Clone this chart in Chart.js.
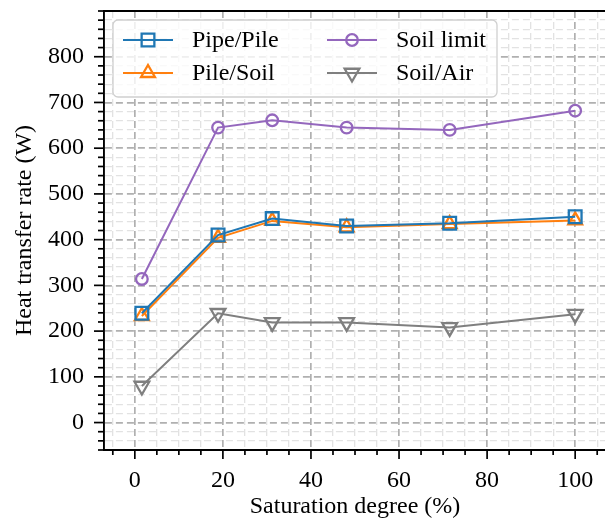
<!DOCTYPE html>
<html><head><meta charset="utf-8">
<script src="https://cdn.jsdelivr.net/npm/chart.js@4.4.0/dist/chart.umd.min.js"></script>
<style>html,body{margin:0;padding:0;overflow:hidden;background:#fff}#wrap{width:606px;height:521px;position:relative}</style>
</head><body><div id="wrap"><canvas id="c"></canvas></div>
<script>
const saturation = [1.6, 18.9, 31.2, 48.1, 71.5, 100];
const pipePile  = [239, 410, 446, 430, 436, 450];
const pileSoil  = [233, 404, 441, 427, 434, 442];
const soilLimit = [314, 645, 661, 645, 640, 682];
const soilAir   = [80, 239, 219, 219, 208, 237];
const seriesNames = ['Pipe/Pile', 'Pile/Soil', 'Soil limit', 'Soil/Air'];
const xTickLabels = [0, 20, 40, 60, 80, 100];
const yTickLabels = [0, 100, 200, 300, 400, 500, 600, 700, 800];
const xTitle = 'Saturation degree (%)';
const yTitle = 'Heat transfer rate (W)';

const FONT = '"Liberation Serif", "Times New Roman", serif';
const COLORS = ['#1f77b4', '#ff7f0e', '#9467bd', '#7f7f7f'];
const STYLES = [
  {pointStyle: 'rect', radius: 9, rotation: 0},
  {pointStyle: 'triangle', radius: 8, rotation: 0},
  {pointStyle: 'circle', radius: 5.8, rotation: 0},
  {pointStyle: 'triangle', radius: 8.5, rotation: 180}
];
const values = [pipePile, pileSoil, soilLimit, soilAir];

const datasets = values.map((vals, i) => ({
  label: seriesNames[i],
  data: saturation.map((x, j) => ({x: x, y: vals[j]})),
  borderColor: COLORS[i],
  backgroundColor: 'transparent',
  borderWidth: 2,
  pointStyle: STYLES[i].pointStyle,
  pointRadius: STYLES[i].radius,
  pointRotation: STYLES[i].rotation,
  pointBorderColor: COLORS[i],
  pointBackgroundColor: 'transparent',
  pointBorderWidth: 2.3,
  tension: 0
}));

function drawMarker(ctx, style, r, rot, x, y, color) {
  ctx.save();
  ctx.strokeStyle = color; ctx.lineWidth = 2.3;
  ctx.beginPath();
  if (style === 'circle') {
    ctx.arc(x, y, r, 0, Math.PI * 2);
  } else if (style === 'rect') {
    const s = r * Math.SQRT1_2;
    ctx.rect(x - s, y - s, 2 * s, 2 * s);
  } else {
    let rad = rot * Math.PI / 180;
    ctx.moveTo(x + Math.sin(rad) * r, y - Math.cos(rad) * r);
    rad += 2 * Math.PI / 3;
    ctx.lineTo(x + Math.sin(rad) * r, y - Math.cos(rad) * r);
    rad += 2 * Math.PI / 3;
    ctx.lineTo(x + Math.sin(rad) * r, y - Math.cos(rad) * r);
    ctx.closePath();
  }
  ctx.stroke();
  ctx.restore();
}

const decorPlugin = {
  id: 'decor',
  afterDraw(chart) {
    const ctx = chart.ctx;
    const a = chart.chartArea;
    const xs = chart.scales.x, ys = chart.scales.y;
    ctx.save();
    // tick marks
    ctx.strokeStyle = '#000'; ctx.lineWidth = 1.7;
    ys.ticks.forEach(t => {
      const v = t.value;
      if (Math.abs(v % 20) > 1e-6) return;
      const major = v % 100 === 0 && v >= 0 && v <= 800;
      const len = major ? 10 : 6;
      const p = ys.getPixelForValue(v);
      ctx.beginPath(); ctx.moveTo(a.left - len, p); ctx.lineTo(a.left, p); ctx.stroke();
    });
    xs.ticks.forEach(t => {
      const v = t.value;
      if (Math.abs(v % 5) > 1e-6) return;
      const major = v % 20 === 0;
      const len = major ? 9 : 5;
      const p = xs.getPixelForValue(v);
      ctx.beginPath(); ctx.moveTo(p, a.bottom); ctx.lineTo(p, a.bottom + len); ctx.stroke();
    });
    // top spine
    ctx.lineWidth = 1.9;
    ctx.beginPath();
    ctx.moveTo(a.left, a.top); ctx.lineTo(a.right, a.top);
    ctx.stroke();
    // legend
    const bx = 113, by = 20, bw = 384, bh = 77, rr = 5;
    ctx.beginPath();
    ctx.moveTo(bx + rr, by);
    ctx.arcTo(bx + bw, by, bx + bw, by + bh, rr);
    ctx.arcTo(bx + bw, by + bh, bx, by + bh, rr);
    ctx.arcTo(bx, by + bh, bx, by, rr);
    ctx.arcTo(bx, by, bx + bw, by, rr);
    ctx.closePath();
    ctx.fillStyle = 'rgba(255,255,255,0.8)';
    ctx.fill();
    ctx.strokeStyle = '#d0d0d0'; ctx.lineWidth = 1.3;
    ctx.stroke();
    const order = [0, 2, 1, 3];
    const pos = [[123, 40], [327, 40], [123, 73], [327, 73]];
    order.forEach((di, k) => {
      const [x0, y0] = pos[k];
      const c = COLORS[di];
      ctx.strokeStyle = c; ctx.lineWidth = 2;
      ctx.beginPath(); ctx.moveTo(x0, y0); ctx.lineTo(x0 + 50, y0); ctx.stroke();
      drawMarker(ctx, STYLES[di].pointStyle, STYLES[di].radius, STYLES[di].rotation, x0 + 25, y0, c);
      ctx.fillStyle = '#000';
      ctx.font = '24px ' + FONT;
      ctx.textBaseline = 'middle';
      ctx.textAlign = 'left';
      ctx.fillText(seriesNames[di], x0 + 69, y0 + 1);
    });
    ctx.restore();
  }
};

const tickFont = {family: FONT, size: 24};
const isMajorY = v => v % 100 === 0 && v >= 0 && v <= 800;

new Chart(document.getElementById('c'), {
  type: 'line',
  data: {datasets: datasets},
  plugins: [decorPlugin],
  options: {
    responsive: true,
    maintainAspectRatio: false,
    animation: false,
    events: [],
    layout: {autoPadding: false, padding: {top: 11, left: 0, right: 0, bottom: 0}},
    plugins: {legend: {display: false}, tooltip: {enabled: false}},
    scales: {
      x: {
        type: 'linear', min: -7, max: 107,
        afterFit: s => { s.height = 71; s.paddingLeft = 0; s.paddingRight = 0; },
        ticks: {
          stepSize: 5, autoSkip: false, includeBounds: false, maxRotation: 0, minRotation: 0,
          callback: v => xTickLabels.includes(v) ? String(v) : '',
          font: tickFont, color: '#000', padding: 16
        },
        grid: {
          drawTicks: false,
          color: c => (c.tick && c.tick.value % 20 === 0) ? '#b0b0b0' : '#e2e2e2',
          lineWidth: c => (c.tick && c.tick.value % 20 === 0) ? 1.7 : 1.3
        },
        border: {color: '#000', width: 1.9, dash: [7, 4]},
        title: {display: true, text: xTitle, font: tickFont, color: '#000', padding: {top: 0, bottom: 0}}
      },
      y: {
        type: 'linear', min: -60, max: 900,
        afterFit: s => { s.width = 104; s.paddingTop = 0; s.paddingBottom = 0; },
        ticks: {
          stepSize: 20, autoSkip: false, includeBounds: false,
          callback: v => yTickLabels.includes(v) ? String(v) : '',
          font: tickFont, color: '#000', padding: 20
        },
        grid: {
          drawTicks: false,
          color: c => (c.tick && isMajorY(c.tick.value)) ? '#b0b0b0' : '#e2e2e2',
          lineWidth: c => (c.tick && isMajorY(c.tick.value)) ? 1.7 : 1.3
        },
        border: {color: '#000', width: 1.9, dash: [7, 4]},
        title: {display: true, text: yTitle, font: tickFont, color: '#000', padding: {top: 10, bottom: 0}}
      }
    }
  }
});
</script>
</body></html>
